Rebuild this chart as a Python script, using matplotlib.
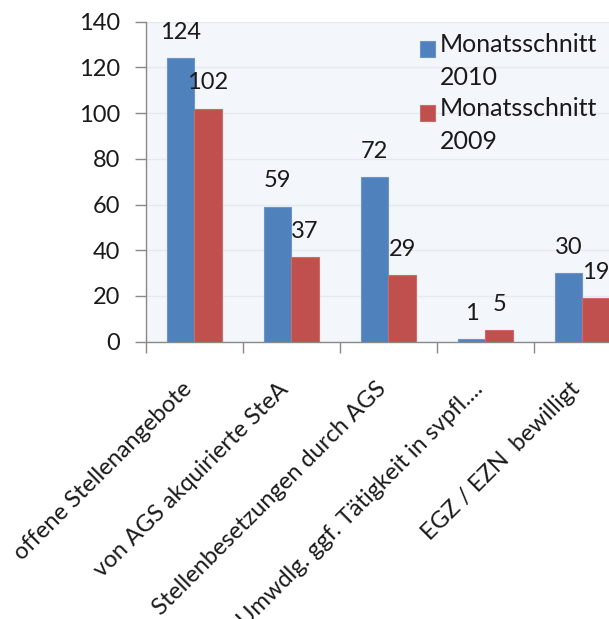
import matplotlib
matplotlib.use("Agg")
import matplotlib.pyplot as plt
import matplotlib.patches as mpatches
from matplotlib.container import BarContainer
from matplotlib.legend_handler import HandlerPatch, update_from_first_child
import numpy as np

categories = ["offene Stellenangebote", "von AGS akquirierte SteA",
              "Stellenbesetzungen durch AGS", "Umwdlg. ggf. Tätigkeit in svpfl....",
              "EGZ / EZN  bewilligt"]
series_names = ["Monatsschnitt\n2010", "Monatsschnitt\n2009"]
values_2010 = [124, 59, 72, 1, 30]
values_2009 = [102, 37, 29, 5, 19]
y_ticks = [0, 20, 40, 60, 80, 100, 120, 140]

plt.rcParams['font.family'] = ['Lato', 'DejaVu Sans']
W, H = 609, 619
fig = plt.figure(figsize=(W/100, H/100), dpi=100)
fig.patch.set_facecolor('white')
left, right, top, bottom = 145.7, 631.0, 21.7, 341.7
ax = fig.add_axes([left/W, 1-bottom/H, (right-left)/W, (bottom-top)/H])
ax.set_facecolor('#f3f6fb')

x = np.arange(len(categories))
bw = 0.284
colors = ['#4f81bd', '#c0504d']
edges = ['#6f95c8', '#cc6b68']
b1 = ax.bar(x - bw/2, values_2010, bw, color=colors[0], edgecolor=edges[0], linewidth=0.8, label=series_names[0], zorder=3)
b2 = ax.bar(x + bw/2, values_2009, bw, color=colors[1], edgecolor=edges[1], linewidth=0.8, label=series_names[1], zorder=3)

fs = 17
txtc = '#1a1a1a'
for bars, vals in ((b1, values_2010), (b2, values_2009)):
    for r, v in zip(bars, vals):
        ax.annotate(str(v), (r.get_x() + r.get_width()/2, v), xytext=(0, 18.7),
                    textcoords='offset points', ha='center', va='center',
                    fontsize=fs, color=txtc, zorder=4)

ax.set_xlim(-0.5, len(categories) - 0.5)
ax.set_ylim(0, 140)
ax.set_yticks(y_ticks)
ax.set_yticklabels([str(t) for t in y_ticks], fontsize=fs, color=txtc)
ax.yaxis.grid(True, color='#e6eaf0', linewidth=1, zorder=0)
ax.set_axisbelow(True)

# category labels: end of text slightly left of the category centre
cat_px = (right - left) / len(categories)
label_shift = -6 / cat_px
ax.set_xticks(x + label_shift)
ax.set_xticklabels(categories, rotation=45, ha='right', va='center',
                   rotation_mode='anchor', fontsize=fs, color=txtc)
ax.set_xticks(np.arange(-0.5, len(categories)), minor=True)
ax.tick_params(axis='x', which='major', length=0, pad=31.7)
ax.tick_params(axis='x', which='minor', length=8, color='#898989', width=1)
ax.tick_params(axis='y', length=8, color='#898989', width=1, pad=10.5)

for s in ('top', 'right'):
    ax.spines[s].set_visible(False)
for s in ('left', 'bottom'):
    ax.spines[s].set_color('#898989')
    ax.spines[s].set_linewidth(1)

def raised_square(legend, orig_handle, xdescent, ydescent, width, height, fontsize):
    return mpatches.Rectangle((-xdescent, -ydescent + 9.0), width, height)

leg = ax.legend(loc='upper left', bbox_to_anchor=(420/W, 1-33/H),
                bbox_transform=fig.transFigure, frameon=False, fontsize=18,
                handlelength=0.6, handleheight=0.6, handletextpad=0.2,
                labelspacing=0.3, borderpad=0, borderaxespad=0,
                handler_map={BarContainer: HandlerPatch(patch_func=raised_square,
                                                        update_func=update_from_first_child)})
for t in leg.get_texts():
    t.set_color(txtc)
    t.set_linespacing(1.55)

fig.savefig('out.png', dpi=100, facecolor='white')
